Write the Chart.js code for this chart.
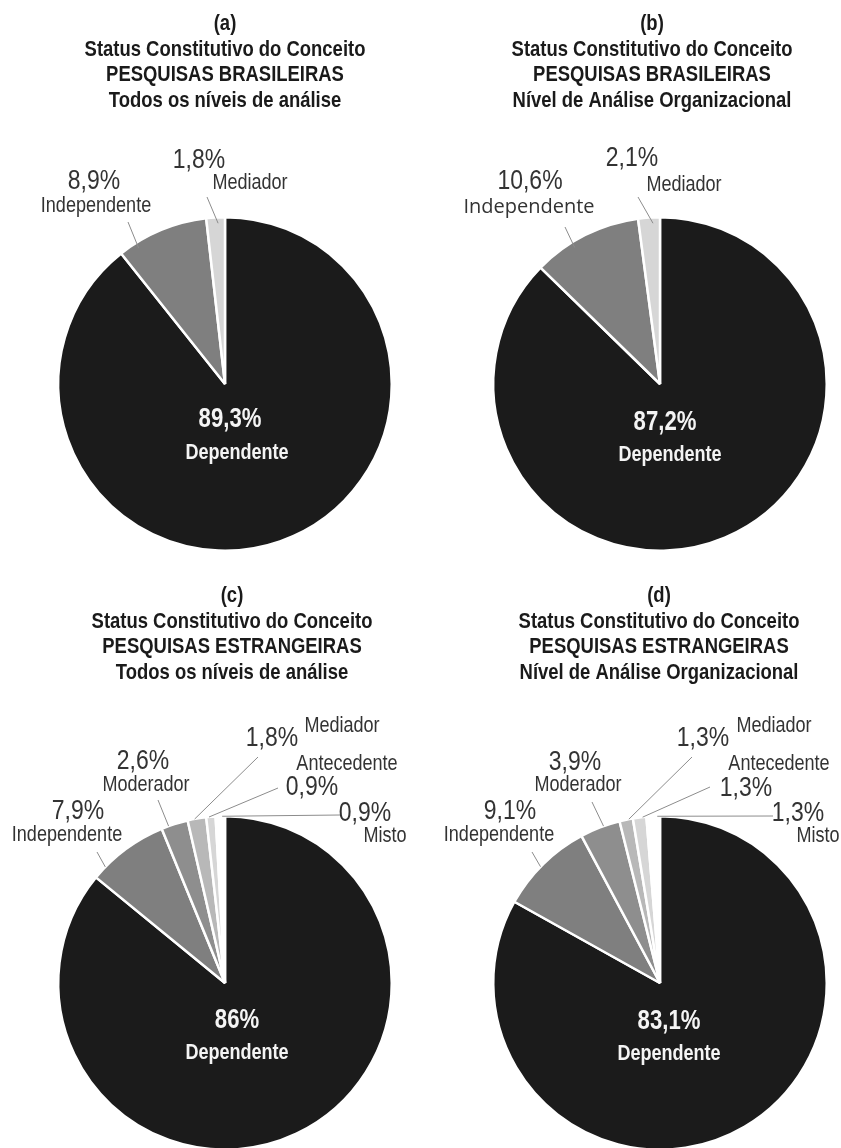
<!DOCTYPE html>
<html>
<head>
<meta charset="utf-8">
<script src="https://cdn.jsdelivr.net/npm/chart.js@4.4.0/dist/chart.umd.min.js"></script>
<style>
    html, body { margin: 0; padding: 0; background: #fff; overflow: hidden; width: 841px; height: 1148px; }
    .panel { position: absolute; width: 420px; height: 600px; }
</style>
</head>
<body>
<div class="panel" style="left:0;top:0"><canvas id="chartA" width="420" height="600"></canvas></div>
<div class="panel" style="left:420px;top:0"><canvas id="chartB" width="420" height="600"></canvas></div>
<div class="panel" style="left:0;top:574px"><canvas id="chartC" width="420" height="600"></canvas></div>
<div class="panel" style="left:420px;top:574px"><canvas id="chartD" width="420" height="600"></canvas></div>
<script>
// Data
const categoriesBR = ['Dependente', 'Independente', 'Mediador'];
const valuesA = [89.3, 8.9, 1.8];
const valuesB = [87.2, 10.6, 2.1];

const categoriesEX = ['Dependente', 'Independente', 'Moderador', 'Mediador', 'Antecedente', 'Misto'];
const valuesC = [86, 7.9, 2.6, 1.8, 0.9, 0.9];
const valuesD = [83.1, 9.1, 3.9, 1.3, 1.3, 1.3];

const titleA = ['(a)', 'Status Constitutivo do Conceito', 'PESQUISAS BRASILEIRAS', 'Todos os níveis de análise'];
const titleB = ['(b)', 'Status Constitutivo do Conceito', 'PESQUISAS BRASILEIRAS', 'Nível de Análise Organizacional'];
const titleC = ['(c)', 'Status Constitutivo do Conceito', 'PESQUISAS ESTRANGEIRAS', 'Todos os níveis de análise'];
const titleD = ['(d)', 'Status Constitutivo do Conceito', 'PESQUISAS ESTRANGEIRAS', 'Nível de Análise Organizacional'];

const coloursBR = ['#1b1b1b', '#7f7f7f', '#d6d6d6'];
const coloursEX = ['#1b1b1b', '#7f7f7f', '#8e8e8e', '#b8b8b8', '#d6d6d6', '#ffffff'];

// Narrow font, or a squeezed Liberation Sans when it is missing
function hasFont(name) {
    const c = document.createElement('canvas').getContext('2d');
    c.font = '40px monospace';
    const w0 = c.measureText('Independente 89,3%').width;
    c.font = `40px "${name}", monospace`;
    return c.measureText('Independente 89,3%').width !== w0;
}
const NARROW = hasFont('Liberation Sans Narrow');

function drawText(ctx, text, x, y, size, weight, color, family) {
    ctx.save();
    ctx.fillStyle = color;
    ctx.textAlign = 'center';
    ctx.textBaseline = 'middle';
    if (family) {
        ctx.font = `${weight} ${size}px ${family}`;
        ctx.fillText(text, x, y);
    } else if (NARROW) {
        ctx.font = `${weight} ${size}px "Liberation Sans Narrow"`;
        ctx.fillText(text, x, y);
    } else {
        ctx.translate(x, y);
        ctx.scale(0.82, 1);
        ctx.font = `${weight} ${size}px "Liberation Sans", Arial, sans-serif`;
        ctx.fillText(text, 0, 0);
    }
    ctx.restore();
}

const fmt = v => String(v).replace('.', ',') + '%';

// Titles, leader lines and labels
const pieLabels = {
    id: 'pieLabels',
    afterDraw(chart, args, opts) {
        const ctx = chart.ctx;
        const arcs = chart.getDatasetMeta(0).data;
        const cx = arcs[0].x, cy = arcs[0].y, r = arcs[0].outerRadius;
        const labels = chart.data.labels;
        const values = chart.data.datasets[0].data;

        opts.title.forEach((line, i) => {
            drawText(ctx, line, opts.titleX, opts.titleY + i * 25.5, 22.5, 'bold', '#1a1a1a');
        });

        // big slice label inside the pie
        drawText(ctx, fmt(values[0]), cx + opts.center[0], cy + opts.center[1], 27, 'bold', '#f4f4f4');
        drawText(ctx, labels[0], cx + opts.center[2], cy + opts.center[3], 22, 'bold', '#f4f4f4');

        opts.outer.forEach(spec => {
            const arc = arcs[spec.i];
            const a = arc.startAngle + spec.t * (arc.endAngle - arc.startAngle);
            const sx = cx + Math.cos(a) * r * spec.rf;
            const sy = cy + Math.sin(a) * r * spec.rf;
            ctx.save();
            ctx.strokeStyle = '#8c8c8c';
            ctx.lineWidth = 1;
            ctx.beginPath();
            ctx.moveTo(sx, sy);
            ctx.lineTo(cx + spec.end[0], cy + spec.end[1]);
            ctx.stroke();
            ctx.restore();
            drawText(ctx, fmt(values[spec.i]), cx + spec.pct[0], cy + spec.pct[1], 28, 'normal', '#333');
            drawText(ctx, labels[spec.i], cx + spec.name[0], cy + spec.name[1], spec.nameSize || 22, 'normal', '#333', spec.family);
        });
    }
};

function makePie(id, labels, values, colours, padding, labelOpts) {
    const ctx = document.getElementById(id).getContext('2d');
    return new Chart(ctx, {
        type: 'pie',
        data: {
            labels: labels,
            datasets: [{
                data: values,
                backgroundColor: colours,
                borderColor: '#ffffff',
                borderWidth: 2.5,
            }],
        },
        options: {
            responsive: false,
            animation: false,
            layout: { padding: padding },
            plugins: {
                legend: { display: false },
                tooltip: { enabled: false },
                pieLabels: labelOpts,
            },
        },
        plugins: [pieLabels],
    });
}

makePie('chartA', categoriesBR, valuesA, coloursBR,
    { left: 57, right: 27, top: 216, bottom: 48 },
    {
        title: titleA, titleX: 225, titleY: 24,
        center: [5, 36, 12, 69],
        outer: [
            { i: 1, t: 0.19, rf: 0.965, end: [-97, -162], pct: [-131, -203], name: [-129, -178] },
            { i: 2, t: 0.62, rf: 0.965, end: [-18, -187], pct: [-26, -224], name: [25, -201] },
        ],
    });

makePie('chartB', categoriesBR, valuesB, coloursBR,
    { left: 72, right: 12, top: 216, bottom: 48 },
    {
        title: titleB, titleX: 232, titleY: 24,
        center: [5, 39, 10, 71],
        outer: [
            { i: 1, t: 0.36, rf: 0.965, end: [-95, -157], pct: [-130, -203], name: [-131, -177], nameSize: 20, family: '"Open Sans", sans-serif' },
            { i: 2, t: 0.67, rf: 0.965, end: [-22, -187], pct: [-28, -226], name: [24, -199] },
        ],
    });

makePie('chartC', categoriesEX, valuesC, coloursEX,
    { left: 57, right: 27, top: 241, bottom: 23 },
    {
        title: titleC, titleX: 232, titleY: 22,
        center: [12, 38, 12, 70],
        outer: [
            { i: 1, t: 0.17, rf: 1.0, end: [-128, -131], pct: [-147, -172], name: [-158, -148] },
            { i: 2, t: 0.27, rf: 1.0, end: [-67, -183], pct: [-82, -222], name: [-79, -198] },
            { i: 3, t: 0.38, rf: 1.0, end: [33, -226], pct: [47, -245], name: [117, -257] },
            { i: 4, t: 0.3, rf: 1.0, end: [53, -195], pct: [87, -196], name: [122, -219] },
            { i: 5, t: 0.7, rf: 1.0, end: [115, -168], pct: [140, -170], name: [160, -147] },
        ],
    });

makePie('chartD', categoriesEX, valuesD, coloursEX,
    { left: 72, right: 12, top: 241, bottom: 23 },
    {
        title: titleD, titleX: 239, titleY: 22,
        center: [9, 39, 9, 71],
        outer: [
            { i: 1, t: 0.46, rf: 1.0, end: [-128, -131], pct: [-150, -172], name: [-161, -148] },
            { i: 2, t: 0.59, rf: 1.0, end: [-68, -181], pct: [-85, -221], name: [-82, -198] },
            { i: 3, t: 0.7, rf: 1.0, end: [32, -226], pct: [43, -245], name: [114, -257] },
            { i: 4, t: 0.72, rf: 1.0, end: [50, -196], pct: [86, -195], name: [119, -219] },
            { i: 5, t: 0.8, rf: 1.0, end: [113, -167], pct: [138, -170], name: [158, -147] },
        ],
    });
</script>
</body>
</html>
